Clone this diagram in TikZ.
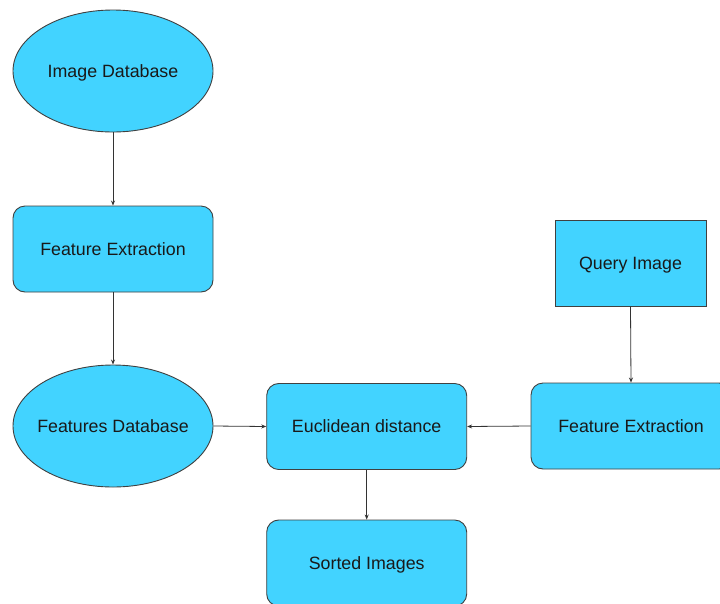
\documentclass[tikz,border=0pt]{standalone}
\usepackage{fontspec}
\setmainfont{Liberation Sans}
\usetikzlibrary{shapes.geometric,arrows.meta}
\definecolor{boxfill}{RGB}{66,211,255}
\tikzset{
  base/.style={draw=black!75, line width=0.9pt, fill=boxfill, text=black!90,
    font=\fontsize{17.8}{20}\selectfont, inner sep=0pt, text height=12.7pt, text depth=0pt},
  dbase/.style={base, ellipse, minimum width=200pt, minimum height=122pt},
  stepbox/.style={base, rectangle, rounded corners=12pt, minimum width=200pt, minimum height=86pt},
  inbox/.style={base, rectangle, minimum width=151pt, minimum height=86pt},
  link/.style={draw=black!80, line width=0.8pt, -{Stealth[length=5pt,width=4pt]}}
}
\begin{document}
\begin{tikzpicture}[x=1pt,y=-1pt]
			%%%%% FRAME %%%%%
			\clip (0,0) rectangle (720,603);
			\fill[white] (0,0) rectangle (720,603);
			
			%%%%% NODES %%%%%
			\node[dbase] (imgdb) at (113,71) {\makebox[0pt]{Image Database}};
			\node[stepbox] (featex) at (113,249) {Feature Extraction};
			\node[dbase] (featdb) at (113,426) {\makebox[0pt]{Features Database}};
			
			\node[stepbox] (eucl) at (366.7,426.5) {Euclidean distance};
			\node[stepbox] (sorted) at (366.7,563) {Sorted Images};
			
			\node[inbox] (query) at (630.5,263) {Query Image};
			\node[stepbox] (qfeatex) at (631,426) {Feature Extraction};
			
			%%%%% ARROWS %%%%%
			\draw[link] (imgdb) -- (featex);
			\draw[link] (featex) -- (featdb);
			\draw[link] (featdb.east) -- (eucl.west);
			\draw[link] (eucl.south) -- (sorted.north);
			\draw[link] (query.south) -- (qfeatex.north);
			\draw[link] (qfeatex.west) -- (eucl.east);
			
\end{tikzpicture}
\end{document}
